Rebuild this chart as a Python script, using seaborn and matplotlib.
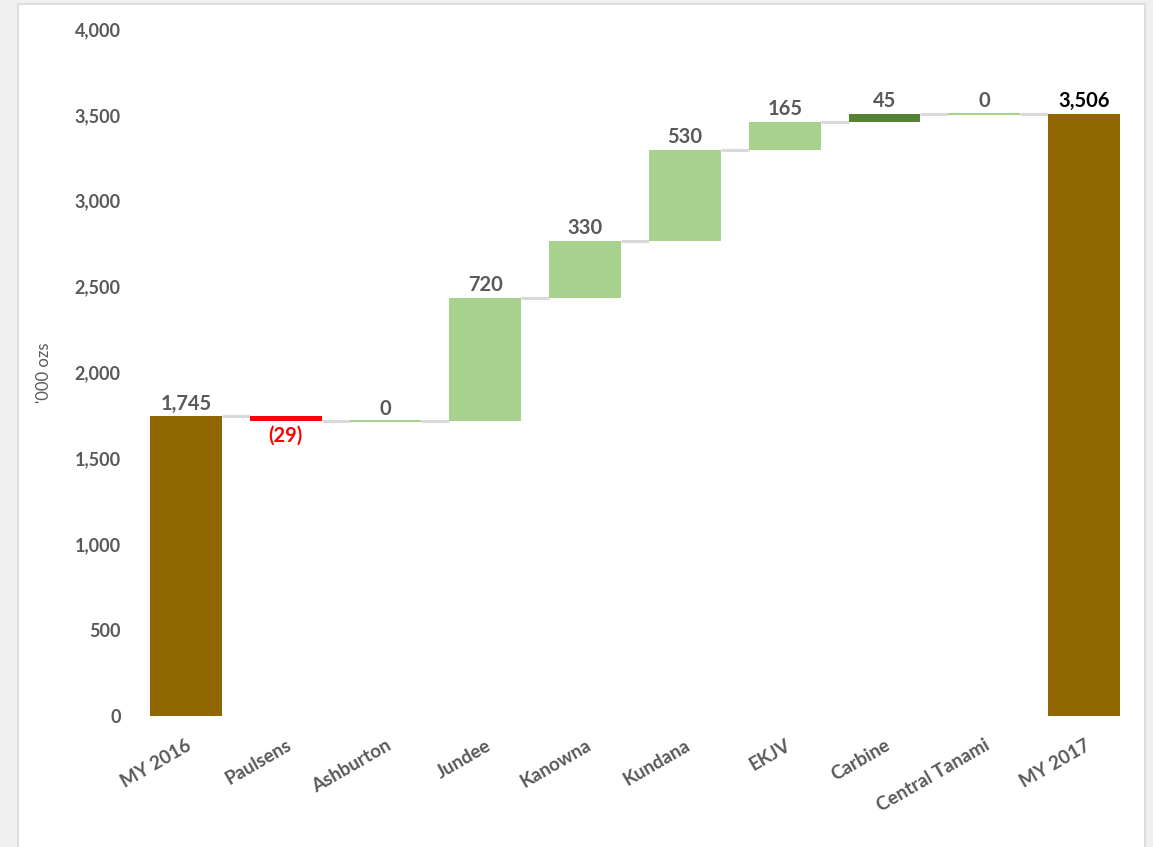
import numpy as np
import matplotlib
matplotlib.use("Agg")
import matplotlib.pyplot as plt
import seaborn as sns
from matplotlib.patches import Rectangle

# waterfall data ('000 ozs)
categories = ["MY 2016", "Paulsens", "Ashburton", "Jundee", "Kanowna",
              "Kundana", "EKJV", "Carbine", "Central Tanami", "MY 2017"]
changes = [1745, -29, 0, 720, 330, 530, 165, 45, 0, 3506]
is_total = [True, False, False, False, False, False, False, False, False, True]
bar_colors = ["#8F6600", "#FF0000", "#A9D18E", "#A9D18E", "#A9D18E",
              "#A9D18E", "#A9D18E", "#548235", "#A9D18E", "#8F6600"]
label_colors = ["#595959", "#FF0000", "#595959", "#595959", "#595959",
                "#595959", "#595959", "#595959", "#595959", "#000000"]
yticks = [0, 500, 1000, 1500, 2000, 2500, 3000, 3500, 4000]

# running totals -> bottoms / heights
bottoms, heights, levels = [], [], []
running = 0
for v, tot in zip(changes, is_total):
    if tot:
        bottoms.append(0)
        heights.append(v)
        running = v
    else:
        bottoms.append(min(running, running + v))
        heights.append(abs(v))
        running = running + v
    levels.append(running)

sns.set_style("white")
plt.rcParams["font.family"] = ["Lato", "DejaVu Sans"]

fig = plt.figure(figsize=(11.53, 8.47), dpi=100, facecolor="#f0f0f0")
# white chart area with light border
bg = Rectangle((18 / 1153, -0.01), 1127 / 1153, 1.0 - 4 / 847 + 0.01,
               transform=fig.transFigure, facecolor="white",
               edgecolor="#d9d9d9", linewidth=1.2, zorder=-10)
fig.patches.append(bg)
ax = fig.add_axes([0.118, 0.1547, 0.8655, 0.8111])
ax.set_facecolor("none")
ax.set_zorder(5)

sns.barplot(x=categories, y=heights, bottom=bottoms, color="#A9D18E",
            width=0.72, errorbar=None, saturation=1, ax=ax, zorder=3)

for i, p in enumerate(ax.patches):
    p.set_facecolor(bar_colors[i])
    if heights[i] == 0:
        p.set_edgecolor(bar_colors[i])
        p.set_linewidth(1.5)
    else:
        p.set_edgecolor("none")

# connector lines
for i in range(len(categories) - 1):
    ax.plot([i + 0.36, i + 1 - 0.36], [levels[i], levels[i]],
            color="#d9d9d9", lw=2.2, zorder=2, solid_capstyle="butt")

# data labels
for i, v in enumerate(changes):
    top = bottoms[i] + heights[i]
    if v < 0:
        ax.text(i, bottoms[i] - 25, f"({abs(v):,})", ha="center", va="top",
                fontsize=14.5, fontweight="bold", color=label_colors[i])
    else:
        ax.text(i, top + 15, f"{v:,}", ha="center", va="bottom",
                fontsize=14.5, fontweight="bold", color=label_colors[i])

ax.set_ylim(0, 4000)
ax.set_xlim(-0.5, len(categories) - 0.5)
ax.set_yticks(yticks)
ax.set_yticklabels([f"{t:,}" for t in yticks], fontsize=13, fontweight="bold", color="#595959")
ax.tick_params(axis="y", length=0, pad=11)
ax.tick_params(axis="x", length=0, pad=15)
plt.setp(ax.get_xticklabels(), rotation=30, ha="right", rotation_mode="anchor",
         fontsize=13.5, fontweight="bold", color="#595959")
ax.set_ylabel("'000 ozs", fontsize=12, color="#595959", labelpad=16)
ax.set_xlabel("")
sns.despine(ax=ax, left=True, bottom=True)

fig.savefig("out.png", dpi=100, facecolor=fig.get_facecolor())
